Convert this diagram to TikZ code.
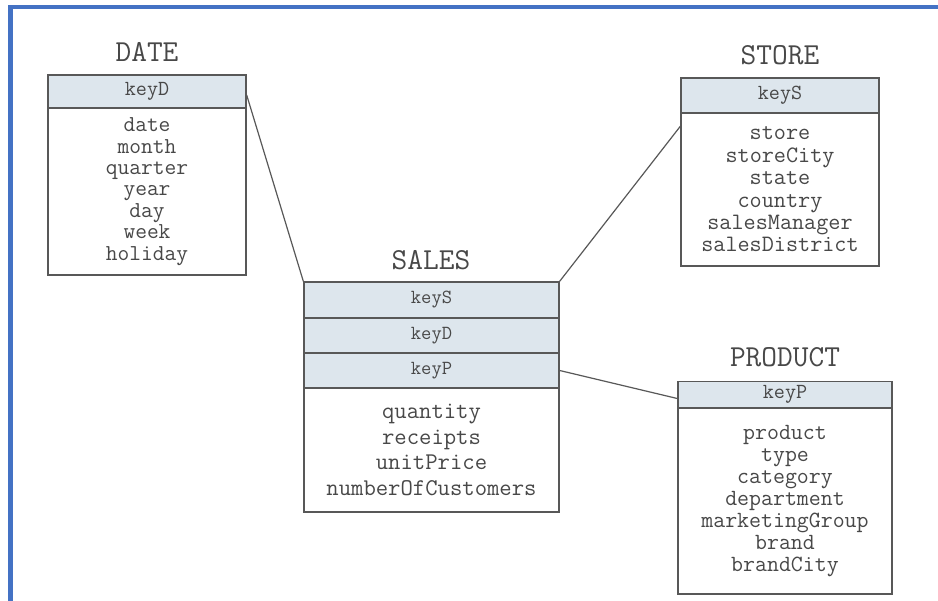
\documentclass[tikz,border=0pt]{standalone}
\usepackage{fontspec}
\usetikzlibrary{calc}
\definecolor{keyfill}{RGB}{221,230,237}
\definecolor{frameblue}{RGB}{68,114,196}
\definecolor{ink}{RGB}{72,72,72}
\definecolor{edgegray}{RGB}{88,88,88}
\begin{document}
\begin{tikzpicture}[x=1pt,y=-1pt,
  keybox/.style={draw=edgegray, fill=keyfill, line width=1.3pt, rectangle, inner sep=0pt, text=ink, font=\ttfamily\fontsize{21.5}{21.5}\selectfont},
  bodybox/.style={draw=edgegray, fill=white, line width=1.3pt, rectangle, inner sep=0pt, text=ink, align=center},
  titletext/.style={text=ink, inner sep=0pt, font=\ttfamily\fontsize{30.5}{30.5}\selectfont},
  link/.style={draw=edgegray, line width=1.2pt}
]
\useasboundingbox (0,0) rectangle (938,601);
\fill[white] (0,0) rectangle (938,601);
\draw[frameblue, line width=4.5pt] (10.5,601) -- (10.5,7) -- (938,7);

% DATE
\node[titletext] (dateTitle) at (147,52) {DATE};
\node[keybox, minimum width=198pt, minimum height=33pt] (dateK) at (147,91.5) {keyD};
\node[bodybox, minimum width=198pt, minimum height=167pt, font=\ttfamily\fontsize{22.8}{21.4}\selectfont] (dateB) at (147,191.5)
  {date\\month\\quarter\\year\\day\\week\\holiday};

% STORE
\node[titletext] (storeTitle) at (780,55) {STORE};
\node[keybox, minimum width=198pt, minimum height=35pt] (storeK) at (780,95.5) {keyS};
\node[bodybox, minimum width=198pt, minimum height=153pt, font=\ttfamily\fontsize{23.5}{22.4}\selectfont] (storeB) at (780,189.5)
  {store\\storeCity\\state\\country\\salesManager\\salesDistrict};

% SALES
\node[titletext] (salesTitle) at (431,260) {SALES};
\node[keybox, minimum width=255pt, minimum height=36pt, font=\ttfamily\fontsize{20}{20}\selectfont] (salesS) at (431.5,300) {keyS};
\node[keybox, minimum width=255pt, minimum height=35pt, font=\ttfamily\fontsize{20}{20}\selectfont] (salesD) at (431.5,335.5) {keyD};
\node[keybox, minimum width=255pt, minimum height=35pt, font=\ttfamily\fontsize{20}{20}\selectfont] (salesP) at (431.5,370.5) {keyP};
\node[bodybox, minimum width=255pt, minimum height=124pt, font=\ttfamily\fontsize{24}{25.7}\selectfont] (salesB) at (431.5,450)
  {quantity\\receipts\\unitPrice\\numberOfCustomers};

% PRODUCT
\node[titletext] (prodTitle) at (785,357) {PRODUCT};
\node[keybox, minimum width=214pt, minimum height=25.5pt] (prodK) at (785,394.5) {keyP};
\node[bodybox, minimum width=214pt, minimum height=186pt, font=\ttfamily\fontsize{23.2}{21.9}\selectfont] (prodB) at (785,501)
  {product\\type\\category\\department\\marketingGroup\\brand\\brandCity};

% connectors
\draw[link] ($(dateK.north east)!0.6!(dateK.south east)$) -- (salesS.north west);
\draw[link] (salesS.north east) -- ($(storeB.north west)!0.09!(storeB.south west)$);
\draw[link] (salesP.east) -- ($(prodK.north west)!0.65!(prodK.south west)$);
\end{tikzpicture}
\end{document}
